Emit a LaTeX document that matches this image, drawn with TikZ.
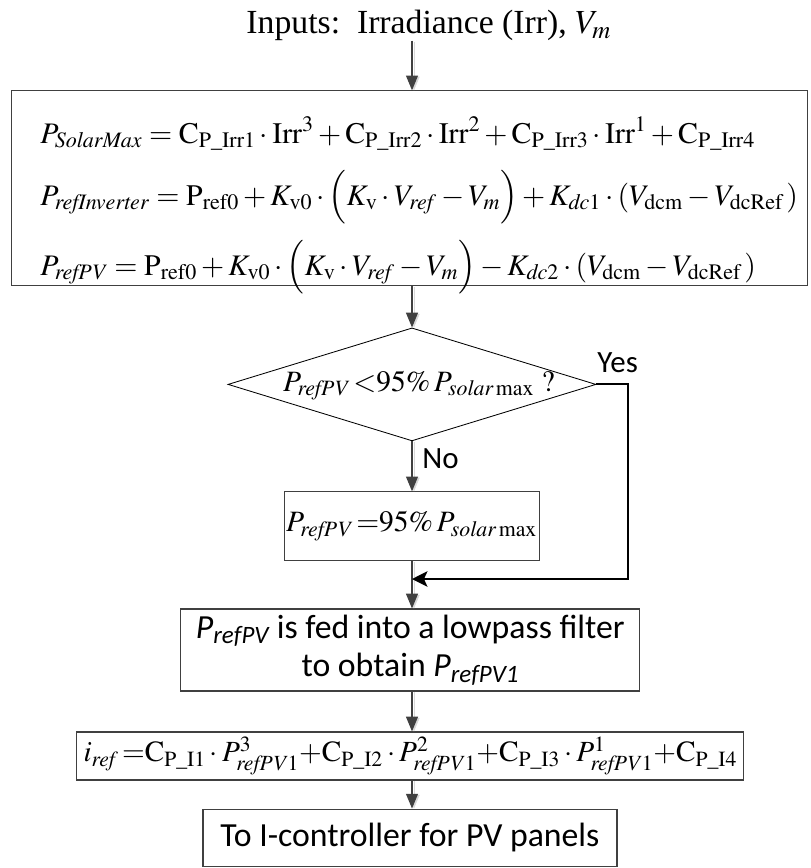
\documentclass[tikz,border=0pt]{standalone}
\usepackage{amsmath}
\usepackage{mathptmx}
\usepackage[no-math]{fontspec}
\setmainfont{Liberation Serif}
\newfontfamily\calfont{Carlito}
\usetikzlibrary{shapes.geometric, arrows.meta, positioning}
\tikzset{
    box/.style={
        rectangle, draw=black!75, line width=0.8pt, inner sep=0pt, align=center
    },
    decision/.style={
        diamond, draw=black, line width=0.6pt, inner sep=0pt
    },
    eqtxt/.style={
        font=\fontsize{21}{24}\selectfont, inner sep=0pt
    },
    lbl/.style={
        font=\calfont\fontsize{22}{26}\selectfont, inner sep=0pt
    },
    note/.style={
        box, font=\calfont\fontsize{24}{27.7}\selectfont
    },
    flow/.style={
        -{Triangle[length=10.5pt, width=8.5pt]}, draw=black!75, line width=0.8pt,
        preaction={draw=black!15, transform canvas={xshift=1.4pt, yshift=-0.6pt}}
    },
    yesline/.style={
        -{Stealth[length=11pt, width=11pt, inset=2.5pt]}, draw=black, line width=1.4pt
    }
}

\begin{document}
\begin{tikzpicture}[>=Stealth]
    \useasboundingbox (0,0) rectangle (20.25,-21.7);

    % inputs and power references
    \node[eqtxt, font=\fontsize{24}{26}\selectfont, anchor=base] (inp) at (10.72,-0.83) {Inputs:\ \ Irradiance (Irr), $V_m$};
    \node[box, minimum width=19.9cm, minimum height=4.875cm] (eqs) at (10.24,-4.71) {};
    \node[eqtxt, font=\fontsize{21.2}{24}\selectfont, anchor=base west] (eq1) at (1.0,-3.575)
        {$P_{\mathit{SolarMax}} = \mathrm{C}_{\mathrm{P\_Irr1}} \cdot \mathrm{Irr}^{3} + \mathrm{C}_{\mathrm{P\_Irr2}} \cdot \mathrm{Irr}^{2} + \mathrm{C}_{\mathrm{P\_Irr3}} \cdot \mathrm{Irr}^{1} + \mathrm{C}_{\mathrm{P\_Irr4}}$};
    \node[eqtxt, font=\fontsize{21.2}{24}\selectfont, anchor=base west] (eq2) at (1.0,-5.125)
        {$P_{\mathit{refInverter}} = \mathrm{P}_{\mathrm{ref0}} + K_{\mathrm{v0}} \cdot \Big(K_{\mathrm{v}} \cdot V_{\mathit{ref}} - V_{m}\Big) + K_{\mathit{dc}1} \cdot (V_{\mathrm{dcm}} - V_{\mathrm{dcRef}}\,)$};
    \node[eqtxt, font=\fontsize{21.2}{24}\selectfont, anchor=base west] (eq3) at (1.0,-6.875)
        {$P_{\mathit{refPV}} = \mathrm{P}_{\mathrm{ref0}} + K_{\mathrm{v0}} \cdot \Big(K_{\mathrm{v}} \cdot V_{\mathit{ref}} - V_{m}\Big) - K_{\mathit{dc}2} \cdot (V_{\mathrm{dcm}} - V_{\mathrm{dcRef}}\,)$};

    % 95 % check
    \node[decision, minimum width=9.2cm, minimum height=2.825cm] (chk) at (10.3,-9.61) {};
    \node[eqtxt] (chktxt) at (10.475,-9.64) {$P_{\mathit{refPV}}\,{<}95\%\,P_{\mathit{solar}\,\mathrm{max}}\ \mathrm{?}$};
    \node[lbl, anchor=base west] (yes) at (14.93,-9.3) {Yes};
    \node[lbl, anchor=base west] (no) at (10.55,-11.7) {No};
    \node[box, eqtxt, draw=black!75, minimum width=6.375cm, minimum height=1.725cm] (lim) at (10.29,-13.16)
        {$P_{\mathit{refPV}}\,{=}95\%\,P_{\mathit{solar}\,\mathrm{max}}$};
    \coordinate (turn) at (15.7,-9.61);
    \coordinate (join) at (10.3,-14.475);

    % filter and current reference
    \node[note, minimum width=11.475cm, minimum height=2.05cm] (lpf) at (10.26,-16.25)
        {{\itshape P}\textsubscript{\itshape refPV} is fed into a lowpass filter\\to obtain {\itshape P}\textsubscript{\itshape refPV1}};
    \node[box, eqtxt, font=\fontsize{20.8}{24}\selectfont, draw=black!75, minimum width=16.675cm, minimum height=1.2cm] (iref) at (10.26,-18.9)
        {$i_{\mathit{ref}}\,{=}\mathrm{C}_{\mathrm{P\_I1}} \cdot P_{\mathit{refPV}1}^{3}{+}\mathrm{C}_{\mathrm{P\_I2}} \cdot P_{\mathit{refPV}1}^{2}{+}\mathrm{C}_{\mathrm{P\_I3}} \cdot P_{\mathit{refPV}1}^{1}{+}\mathrm{C}_{\mathrm{P\_I4}}$};
    \node[note, minimum width=10.35cm, minimum height=1.425cm] (ictl) at (10.25,-20.94) {To I-controller for PV panels};

    \draw[flow] (inp.south -| chk) -- (eqs.north -| chk);
    \draw[flow] (eqs.south -| chk) -- (chk.north);
    \draw[flow] (chk.south) -- (lim.north -| chk);
    \draw[flow] (lim.south -| chk) -- (lpf.north -| chk);
    \draw[yesline] (chk.east) -- (turn) |- (join);
    \draw[flow] (lpf.south -| chk) -- (iref.north -| chk);
    \draw[flow] (iref.south -| chk) -- (ictl.north -| chk);
\end{tikzpicture}
\end{document}
